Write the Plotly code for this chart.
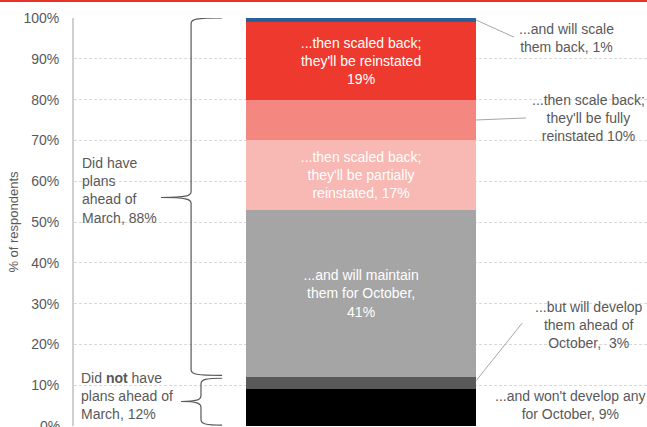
import plotly.graph_objects as go

# Data (bottom to top of the stacked bar)
segments = [
    "...and won't develop any for October",
    "...but will develop them ahead of October",
    "...and will maintain them for October",
    "...then scaled back; they'll be partially reinstated",
    "...then scale back; they'll be fully reinstated",
    "...then scaled back; they'll be reinstated",
    "...and will scale them back",
]
values = [9, 3, 41, 17, 10, 19, 1]
colors = ["#000000", "#595959", "#a5a5a5", "#f8b8b3", "#f4877f", "#ee3a2e", "#2a6099"]
inside_text = [
    "",
    "",
    "...and will maintain<br>them for October,<br>41%",
    "...then scaled back;<br>they'll be partially<br>reinstated, 17%",
    "",
    "...then scaled back;<br>they'll be reinstated<br>19%",
    "",
]
tick_vals = list(range(0, 101, 10))
tick_text = [f"{v}%" for v in tick_vals]

FONT = "Liberation Sans, Arial, sans-serif"
GREY = "#595959"
FS = 14

fig = go.Figure()
for name, v, c, t in zip(segments, values, colors, inside_text):
    fig.add_trace(go.Bar(
        x=[0], y=[v], width=1, name=name,
        marker=dict(color=c, line=dict(width=0)),
        text=[t] if t else None,
        textposition="inside", insidetextanchor="middle",
        textfont=dict(color="white", size=FS, family=FONT),
        hoverinfo="name+y",
    ))

# cumulative boundaries
cum = [0]
for v in values:
    cum.append(cum[-1] + v)
mid = [(cum[i] + cum[i + 1]) / 2 for i in range(len(values))]

shapes = []
# top red rule
shapes.append(dict(type="rect", xref="paper", yref="paper", x0=-0.2, x1=1.01,
                   y0=1 + 16 / 408, y1=1 + 19 / 408, fillcolor="#e8322a", line=dict(width=0), layer="above"))


def brace(xv, xt, xe, ytop, ybot, ytip, rx=0.02, ry=1.4):
    p = (f"M {xe},{ytop} C {xv+rx},{ytop} {xv},{ytop-0.3} {xv},{ytop-ry} "
         f"L {xv},{ytip+ry} C {xv},{ytip+0.4} {xv-rx},{ytip} {xt},{ytip} "
         f"C {xv-rx},{ytip} {xv},{ytip-0.4} {xv},{ytip-ry} "
         f"L {xv},{ybot+ry} C {xv},{ybot+0.3} {xv+rx},{ybot} {xe},{ybot}")
    return dict(type="path", xref="x", yref="y", path=p, line=dict(color=GREY, width=1.2))


ehave = cum[2]
shapes.append(brace(-0.739, -0.870, -0.604, 100, ehave + 0.4, (100 + ehave) / 2))
shapes.append(brace(-0.696, -0.783, -0.604, ehave - 0.3, 0.2, ehave / 2))

# leader lines
lc = "#a6a6a6"
shapes.append(dict(type="line", xref="x", yref="y", x0=0.5, y0=mid[6], x1=0.665, y1=95.3, line=dict(color=lc, width=1)))
shapes.append(dict(type="line", xref="x", yref="y", x0=0.5, y0=mid[4], x1=0.717, y1=75.5, line=dict(color=lc, width=1)))
shapes.append(dict(type="line", xref="x", yref="y", x0=0.5, y0=mid[1] + 0.6, x1=0.70, y1=25.2, line=dict(color=lc, width=1)))

af = dict(family=FONT, size=FS, color=GREY)
annotations = [
    dict(x=0.891, y=95.1, text="...and will scale<br>them back, 1%", align="center"),
    dict(x=0.987, y=75.5, text="...then scale back;<br>they'll be fully<br>reinstated 10%", align="center"),
    dict(x=0.989, y=24.8, text="...but will develop<br>them ahead of<br>October,  3%", align="center"),
    dict(x=0.909, y=5.1, text="...and won't develop any<br>for October, 9%", align="center"),
    dict(x=-1.222, y=57.7, text="Did have<br>plans<br>ahead of<br>March, 88%", align="left", xanchor="left"),
    dict(x=-1.226, y=7.35, text="Did <b>not</b> have<br>plans ahead of<br>March, 12%", align="left", xanchor="left"),
    # partially clipped 0% tick label at the bottom edge
    dict(x=0, xref="paper", y=0, yref="y", text="0%", showarrow=False, xanchor="right",
         xshift=-12, font=af, yanchor="middle"),
]
for a in annotations:
    a.setdefault("xref", "x")
    a.update(yref="y", showarrow=False, font=af)
    a.setdefault("xanchor", "center")
    a["yanchor"] = "middle"

fig.update_layout(
    width=647, height=427,
    margin=dict(l=74, r=0, t=18, b=1),
    barmode="stack",
    showlegend=False,
    plot_bgcolor="white", paper_bgcolor="white",
    font=dict(family=FONT, size=FS, color=GREY),
    shapes=shapes,
    annotations=annotations,
    xaxis=dict(range=[-1.248, 1.243], showgrid=False, zeroline=False, showticklabels=False,
               showline=False, fixedrange=True),
    yaxis=dict(range=[0, 100], tickvals=tick_vals[1:], ticktext=tick_text[1:],
               showgrid=True, gridcolor="#d9d9d9", griddash="3px,2px", gridwidth=1,
               zeroline=False, showline=True, linecolor="#d0d0d0", linewidth=2,
               ticks="", ticklabelstandoff=10,
               tickfont=dict(family=FONT, size=FS, color=GREY),
               title=dict(text="% of respondents", standoff=2,
                          font=dict(family=FONT, size=FS - 1, color=GREY))),
)

fig.write_html("out.html")
